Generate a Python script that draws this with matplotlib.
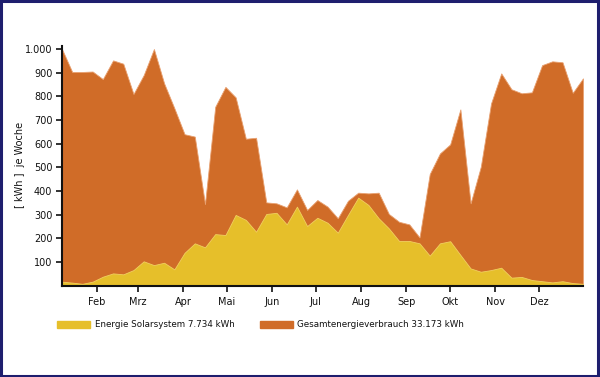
import matplotlib
matplotlib.use("Agg")
import matplotlib.pyplot as plt
from matplotlib.patches import Rectangle
from matplotlib.ticker import FuncFormatter
import numpy as np

# Weekly values (52 weeks)
weeks = list(range(1, 53))
gesamt = [1000, 903, 903, 905, 873, 952, 938, 810, 890, 1000,
          855, 750, 640, 630, 345, 756, 840, 796, 621, 625,
          352, 348, 331, 407, 320, 362, 334, 285, 359, 393,
          390, 393, 303, 270, 259, 204, 472, 559, 597, 745,
          348, 503, 770, 897, 830, 813, 817, 932, 948, 944,
          815, 876]
solar = [17, 13, 8, 17, 38, 52, 48, 66, 103, 87,
         97, 69, 139, 179, 162, 218, 214, 299, 278, 228,
         303, 308, 259, 334, 252, 287, 266, 224, 299, 372,
         341, 285, 242, 189, 189, 179, 127, 179, 188, 130,
         73, 59, 66, 76, 34, 37, 24, 19, 14, 19,
         11, 8]
month_labels = ["Feb", "Mrz", "Apr", "Mai", "Jun", "Jul", "Aug", "Sep", "Okt", "Nov", "Dez"]
month_start_day = [31, 59, 90, 120, 151, 181, 212, 243, 273, 304, 334]
y_ticks = [100, 200, 300, 400, 500, 600, 700, 800, 900, 1000]
legend_labels = ["Energie Solarsystem 7.734 kWh", "Gesamtenergieverbrauch 33.173 kWh"]

c_orange = "#D06C28"
c_yellow = "#E6BF2A"
c_border = "#1E1E6E"
c_text = "#111111"

plt.rcParams['font.family'] = ['DejaVu Sans']
fig = plt.figure(figsize=(6.0, 3.77), dpi=100)
ax = fig.add_axes([0.1033, 0.2422, 0.8683, 0.6353])

ax.fill_between(weeks, 0, gesamt, color=c_orange, linewidth=0.6, edgecolor="#e8a070")
ax.fill_between(weeks, 0, solar, color=c_yellow, linewidth=0.6, edgecolor="#f0d060")

ax.set_xlim(1, 52)
ax.set_ylim(0, 1012)

ax.set_xticks([d / 7 for d in month_start_day])
ax.set_xticklabels(month_labels)
ax.set_yticks(y_ticks)
ax.yaxis.set_major_formatter(FuncFormatter(lambda v, p: f"{int(v):,}".replace(",", ".")))

for s in ["top", "right"]:
    ax.spines[s].set_visible(False)
for s in ["left", "bottom"]:
    ax.spines[s].set_linewidth(1.5)
    ax.spines[s].set_color(c_text)

ax.tick_params(axis="both", labelsize=7, colors=c_text, length=4, width=1.2, pad=3)
ax.tick_params(axis="x", pad=4)

W, H = 600, 377
def fx(px):
    return px / W
def fy(py):
    return 1 - py / H

fig.text(fx(20), fy(165), "[ kWh ]  je Woche", rotation=90, fontsize=7,
         va="center", ha="center", color=c_text)

# Manual legend
fig.patches.append(Rectangle((fx(57), fy(328)), fx(90) - fx(57), 7 / H,
                             transform=fig.transFigure, color=c_yellow, zorder=5))
fig.text(fx(95), fy(324.5), legend_labels[0], fontsize=6.3, va="center", ha="left", color=c_text)
fig.patches.append(Rectangle((fx(260), fy(328)), fx(293) - fx(260), 7 / H,
                             transform=fig.transFigure, color=c_orange, zorder=5))
fig.text(fx(297), fy(324.5), legend_labels[1], fontsize=6.3, va="center", ha="left", color=c_text)

# Figure border
fig.patches.append(Rectangle((0.002, 0.003), 0.994, 0.994, transform=fig.transFigure,
                             fill=False, edgecolor=c_border, linewidth=2.2, zorder=10))

fig.savefig("out.png", dpi=100)
